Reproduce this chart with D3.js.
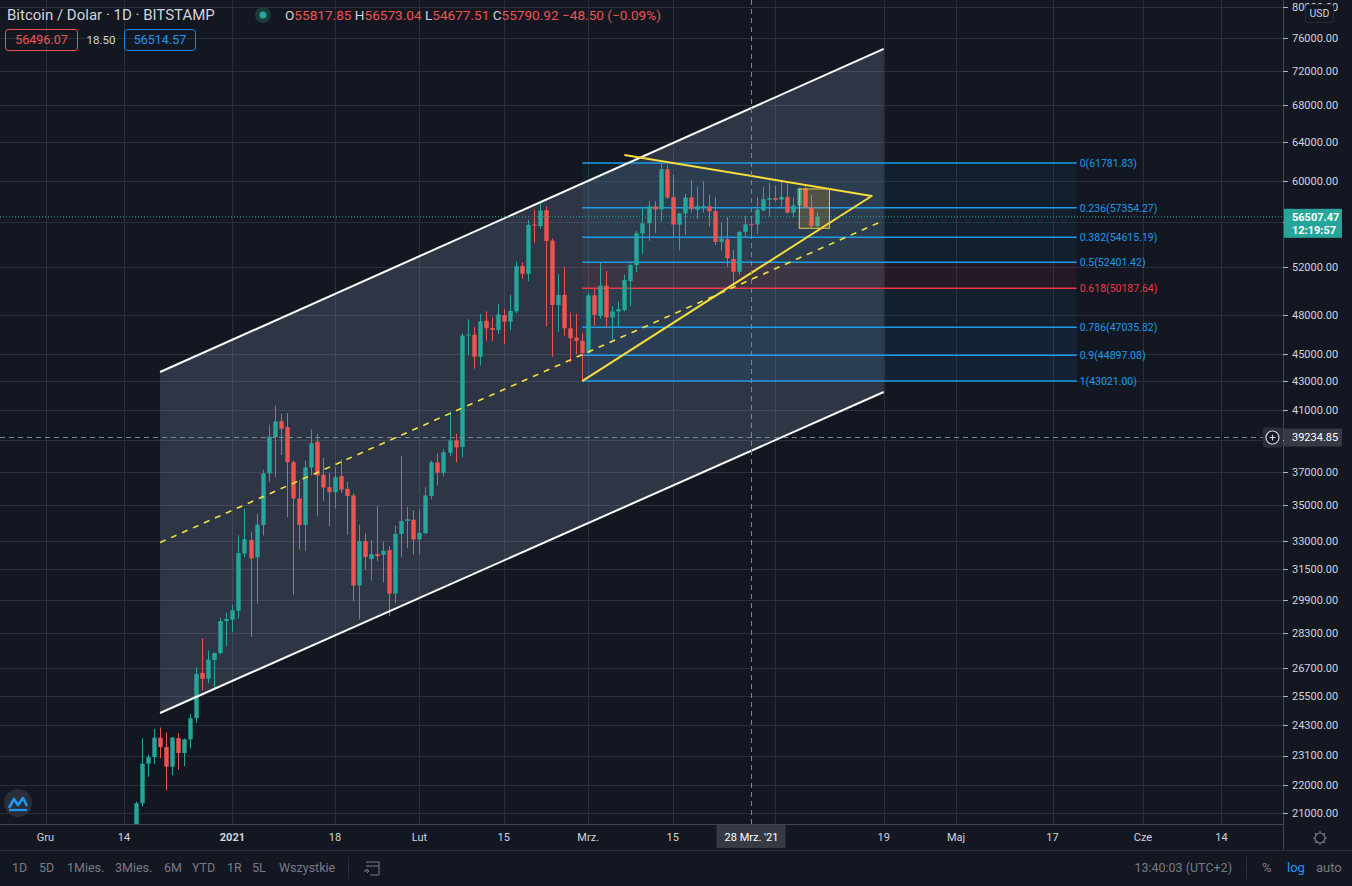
<!DOCTYPE html>
<html>
<head>
<meta charset="utf-8">
<script src="https://cdn.jsdelivr.net/npm/d3@7"></script>
<style>
  html, body { margin: 0; padding: 0; background: #131722; overflow: hidden; }
  svg { display: block; font-family: Roboto, "Noto Sans", sans-serif; }
</style>
</head>
<body>
<svg id="chart" width="1352" height="886"></svg>
<script>
// daily candles, BTC/USD Bitstamp, 16 Dec 2020 .. 8 Apr 2021
const firstDay = "2020-12-16";
const lastDay = "2021-04-08";

const opens = [
  19420, 21340, 22790, 23040, 23800, 23430, 22680, 23780, 23200, 23730, 24580, 26500, 26250, 27070, 27390, 28880,
  28950, 29380, 32310, 33040, 32100, 33880, 36900, 39200, 40240, 39850, 37600, 35400, 33880, 37270, 38890, 36820,
  36070, 35770, 36730, 35970, 35580, 30640, 32980, 32010, 32280, 32240, 32490, 30230, 33380, 34100, 34180,
  33070, 33410, 35550, 37580, 36940, 38200, 38980, 38560, 46400, 46460, 44790, 47550, 46980, 46830, 48000, 47480,
  48300, 52070, 51410, 55790, 55640, 57120, 54320, 48810, 49640, 46960, 46240, 45990,
  45060, 49600, 47920, 50400, 47820, 48290, 48400, 50800, 52150, 54980, 55900, 57500, 57200, 61150, 58380, 55780,
  56820, 58350, 57170, 57350, 57520, 57040, 54200, 54440, 52690, 51570, 55110, 55817.85, 55790, 57110, 58130,
  58290, 58130, 58400, 56900, 57570, 59240, 57410, 55650
];
const highs = [
  21400, 23780, 23130, 24140, 24200, 24000, 23820, 23980, 23760, 24760, 26740, 28060, 27500, 27400, 29040, 29300,
  29650, 33300, 34800, 33500, 34510, 37130, 40020, 41280, 40750, 40790, 37700, 36500, 37700, 39690, 39400, 37870,
  36930, 37270, 37770, 36400, 35700, 33890, 33420, 33040, 34940, 32950, 32700, 33840, 38000, 34900, 34700,
  34750, 36070, 37700, 38150, 38400, 40900, 39400, 46580, 47670, 47070, 48080, 48300, 47800, 48880, 48500, 49640,
  52430, 52380, 56220, 57190, 57880, 57500, 54500, 51400, 52000, 48200, 48100, 46600,
  49800, 50150, 52400, 51640, 48700, 49100, 51300, 52300, 55200, 57400, 58000, 58000, 61781.83, 61600, 60600, 56900,
  58700, 60050, 59400, 59950, 58600, 58400, 55990, 56480, 53480, 55200, 56600, 56573.04, 58400, 59400, 59780,
  59500, 60050, 59720, 58400, 59300, 59500, 58600, 56930
];
const lows = [
  19300, 21230, 22300, 22780, 23000, 21800, 22360, 22560, 22700, 23380, 24390, 25740, 26050, 25850, 27320, 27700,
  28340, 29000, 32110, 28130, 29740, 33290, 36400, 36660, 38050, 34320, 30150, 32520, 32430, 36780, 34360, 35260,
  33800, 34810, 35740, 33330, 29850, 28960, 31460, 30880, 31900, 30800, 29130, 29750, 32110, 32600, 32250,
  32280, 33400, 35350, 36180, 36710, 38000, 37600, 37900, 44880, 43910, 44150, 46020, 45960, 46500, 45750, 46820,
  48140, 50990, 50770, 54110, 55400, 47100, 44790, 46700, 46370, 44390, 44980, 43021,
  45000, 47150, 47700, 47060, 46070, 47010, 48300, 48700, 51560, 53100, 54300, 55000, 56100, 58200, 54650, 53440,
  54850, 56900, 56290, 56900, 55600, 53900, 53440, 52000, 50180, 51300, 54600, 54677.51, 54900, 57000, 56550,
  57900, 57310, 56800, 56500, 56800, 57400, 55440, 55500
];
const closes = [
  21340, 22790, 23040, 23800, 23430, 22680, 23800, 23200, 23730, 24580, 26460, 26240, 27090, 27390, 28880, 28980,
  29400, 32330, 33090, 32040, 33900, 36900, 39230, 40240, 39750, 37600, 35400, 33880, 37270, 38800, 36780, 36050,
  35770, 36670, 35930, 35550, 30640, 32980, 32120, 32280, 32170, 32460, 30230, 33380, 34100, 34200, 33070,
  33440, 35580, 37580, 36940, 38220, 38980, 38540, 46400, 46480, 44790, 47500, 46960, 46830, 48060, 47480, 48330,
  52070, 51410, 55760, 55690, 57100, 54280, 48810, 49640, 46960, 46190, 45990, 45060,
  49600, 48020, 50400, 47820, 48290, 48480, 50870, 52150, 54980, 55900, 57500, 57200, 61150, 58350, 55780, 56820,
  58350, 57230, 57520, 57520, 57040, 54200, 54490, 52740, 51570, 55110, 55817.85, 55790.92, 57190, 58190, 58290,
  58120, 58400, 56900, 57570, 59240, 57410, 55650, 56507.47
];

// axis ticks (labels that sit under a badge stay as grid lines only)
const priceTicks = [80000, 76000, 72000, 68000, 64000, 60000, 56000, 52000, 48000, 45000, 43000, 41000, 39000,
  37000, 35000, 33000, 31500, 29900, 28300, 26700, 25500, 24300, 23100, 22000, 21000];
const hiddenPriceLabels = [56000, 39000];
const timeTickDates = ["2020-12-01", "2020-12-14", "2021-01-01", "2021-01-18", "2021-02-01", "2021-02-15",
  "2021-03-01", "2021-03-15", "2021-04-01", "2021-04-19", "2021-05-01", "2021-05-17", "2021-06-01", "2021-06-14"];
const timeTickLabels = ["Gru", "14", "2021", "18", "Lut", "15", "Mrz.", "15", "", "19", "Maj", "17", "Cze", "14"];

// fibonacci retracement
const fibLevels = ["0", "0.236", "0.382", "0.5", "0.618", "0.786", "0.9", "1"];
const fibPrices = [61781.83, 57354.27, 54615.19, 52401.42, 50187.64, 47035.82, 44897.08, 43021.00];
const fibDates = ["2021-02-28", "2021-05-21"];

// drawings (anchor date, price)
const channelUpper = [["2020-12-20", 43674], ["2021-04-19", 74668]];
const channelLower = [["2020-12-20", 24792], ["2021-04-19", 42246]];
const triangle = [["2021-03-07", 62620], ["2021-04-17", 58496], ["2021-02-28", 43021]];
const box = [["2021-04-05", 59180], ["2021-04-10", 55440]];

// header / status
const lastPrice = 56507.47;
const countdown = "12:19:57";
const crossDate = "2021-03-28";
const crossPrice = 39234.85;
const hovered = { o: "55817.85", h: "56573.04", l: "54677.51", c: "55790.92", chg: "\u221248.50 (\u22120.09%)" };
const bid = "56496.07", spread = "18.50", ask = "56514.57";

const W = 1352, H = 886;
const paneRight = 1283, paneBottom = 824;
const up = "#26a69a", down = "#ef5350";
const fmt = d3.format(".2f");
const parse = d3.utcParse("%Y-%m-%d");

const x = d3.scaleUtc()
  .domain([parse("2020-12-01"), parse("2021-06-14")])
  .range([45.5, 1221.4]);
const y = d3.scaleLog()
  .domain([21000, 76000])
  .range([813, 38.3]);

const days = d3.utcDay.range(parse(firstDay), d3.utcDay.offset(parse(lastDay), 1));
const candles = days.map((d, i) => ({ d: d, o: opens[i], h: highs[i], l: lows[i], c: closes[i] }));

const svg = d3.select("#chart");
svg.append("rect").attr("width", W).attr("height", H).attr("fill", "#131722");

svg.append("clipPath").attr("id", "pane")
  .append("rect").attr("width", paneRight).attr("height", paneBottom);

const pane = svg.append("g").attr("clip-path", "url(#pane)");

// grid
pane.selectAll(".hgrid").data(priceTicks).enter().append("line")
  .attr("x1", 0).attr("x2", paneRight)
  .attr("y1", d => Math.round(y(d)) + 0.5).attr("y2", d => Math.round(y(d)) + 0.5)
  .attr("stroke", "#2a2e39");
pane.selectAll(".vgrid").data(timeTickDates).enter().append("line")
  .attr("y1", 0).attr("y2", paneBottom)
  .attr("x1", d => Math.round(x(parse(d))) + 0.5).attr("x2", d => Math.round(x(parse(d))) + 0.5)
  .attr("stroke", "#2a2e39");

const pt = p => [x(parse(p[0])), y(p[1])];

// parallel channel fill
const chanPoly = [pt(channelUpper[0]), pt(channelUpper[1]), pt(channelLower[1]), pt(channelLower[0])];
pane.append("path")
  .attr("d", "M" + chanPoly.join("L") + "Z")
  .attr("fill", "rgba(150,170,205,0.21)");

// fib fills
const fibFill = ["rgba(8,153,200,0.07)", "rgba(8,153,200,0.07)", "rgba(8,153,200,0.07)", "rgba(242,54,69,0.08)",
  "rgba(8,153,200,0.07)", "rgba(33,150,243,0.095)", "rgba(33,150,243,0.095)"];
const fx1 = x(parse(fibDates[0])), fx2 = x(parse(fibDates[1]));
for (let i = 0; i < fibPrices.length - 1; i++) {
  pane.append("rect")
    .attr("x", fx1).attr("width", fx2 - fx1)
    .attr("y", y(fibPrices[i])).attr("height", y(fibPrices[i + 1]) - y(fibPrices[i]))
    .attr("fill", fibFill[i]);
}
pane.selectAll(".fib").data(fibPrices).enter().append("line")
  .attr("x1", fx1).attr("x2", fx2)
  .attr("y1", d => y(d)).attr("y2", d => y(d))
  .attr("stroke", (d, i) => fibLevels[i] === "0.618" ? "#f23645" : "#1e9be9")
  .attr("stroke-width", 1.5);

// candles
const bw = 4.4;
const cg = pane.selectAll(".candle").data(candles).enter().append("g");
cg.append("line")
  .attr("x1", d => Math.round(x(d.d)) + 0.5).attr("x2", d => Math.round(x(d.d)) + 0.5)
  .attr("y1", d => y(d.h)).attr("y2", d => y(d.l))
  .attr("stroke", d => d.c >= d.o ? up : down);
cg.append("rect")
  .attr("x", d => Math.round(x(d.d)) + 0.5 - bw / 2)
  .attr("width", bw)
  .attr("y", d => y(Math.max(d.o, d.c)))
  .attr("height", d => Math.max(1, Math.abs(y(d.o) - y(d.c))))
  .attr("fill", d => d.c >= d.o ? up : down);

// channel lines and dashed median
const line = d3.line();
pane.append("path").attr("d", line([pt(channelUpper[0]), pt(channelUpper[1])]))
  .attr("stroke", "#ffffff").attr("stroke-width", 2).attr("fill", "none");
pane.append("path").attr("d", line([pt(channelLower[0]), pt(channelLower[1])]))
  .attr("stroke", "#ffffff").attr("stroke-width", 2).attr("fill", "none");
const mid = [0, 1].map(k => [x(parse(channelUpper[k][0])),
  y(Math.sqrt(channelUpper[k][1] * channelLower[k][1]))]);
pane.append("path").attr("d", line(mid))
  .attr("stroke", "#f5e33b").attr("stroke-width", 1.6).attr("stroke-dasharray", "6,6").attr("fill", "none");

// triangle
pane.append("path").attr("d", line(triangle.map(pt)))
  .attr("stroke", "#f7dd3c").attr("stroke-width", 2).attr("fill", "none")
  .attr("stroke-linejoin", "round");

// rectangle
const b0 = pt(box[0]), b1 = pt(box[1]);
pane.append("rect")
  .attr("x", b0[0]).attr("y", b0[1]).attr("width", b1[0] - b0[0]).attr("height", b1[1] - b0[1])
  .attr("fill", "rgba(255,170,40,0.18)").attr("stroke", "#e8c547").attr("stroke-width", 1);

// current price line
pane.append("line")
  .attr("x1", 0).attr("x2", paneRight).attr("y1", y(lastPrice)).attr("y2", y(lastPrice))
  .attr("stroke", up).attr("stroke-dasharray", "1,2");

// crosshair
const cx = Math.round(x(parse(crossDate))) + 0.5, cy = Math.round(y(crossPrice)) + 0.5;
pane.append("line").attr("x1", cx).attr("x2", cx).attr("y1", 0).attr("y2", paneBottom)
  .attr("stroke", "#758696").attr("stroke-dasharray", "5,4");
pane.append("line").attr("x1", 0).attr("x2", paneRight).attr("y1", cy).attr("y2", cy)
  .attr("stroke", "#758696").attr("stroke-dasharray", "5,4");

// fib labels
pane.selectAll(".fibl").data(fibPrices).enter().append("text")
  .attr("x", fx2 + 3).attr("y", d => y(d)).attr("dy", "0.35em")
  .style("font-size", "10.5px")
  .attr("fill", (d, i) => fibLevels[i] === "0.618" ? "#f23645" : "#1e9be9")
  .text((d, i) => fibLevels[i] + "(" + fmt(d) + ")");

// right price axis
svg.append("line").attr("x1", paneRight + 0.5).attr("x2", paneRight + 0.5).attr("y1", 0).attr("y2", H - 36)
  .attr("stroke", "#434651");
const yAx = svg.append("g");
yAx.selectAll("line").data(priceTicks).enter().append("line")
  .attr("x1", paneRight).attr("x2", paneRight + 5)
  .attr("y1", d => Math.round(y(d)) + 0.5).attr("y2", d => Math.round(y(d)) + 0.5)
  .attr("stroke", "#b2b5be");
yAx.selectAll("text").data(priceTicks.filter(d => hiddenPriceLabels.indexOf(d) < 0)).enter().append("text")
  .attr("x", 1292).attr("y", d => y(d)).attr("dy", "0.35em")
  .style("font-size", "11px").attr("fill", "#d1d4dc")
  .text(d => fmt(d));

// USD box
svg.append("rect").attr("x", 1305.5).attr("y", 4.5).attr("width", 28).attr("height", 18).attr("rx", 3)
  .attr("fill", "#131722").attr("stroke", "#2a2e39");
svg.append("text").attr("x", 1319.5).attr("y", 17).attr("text-anchor", "middle")
  .style("font-size", "10.5px").attr("fill", "#d1d4dc").text("USD");

// last price badge
const ly = y(lastPrice);
svg.append("rect").attr("x", paneRight + 1).attr("y", ly - 8).attr("width", 58).attr("height", 29)
  .attr("fill", up);
svg.append("text").attr("x", 1292).attr("y", ly + 4).style("font-size", "11px").style("font-weight", "bold")
  .attr("fill", "#ffffff").text(fmt(lastPrice));
svg.append("text").attr("x", 1292).attr("y", ly + 17).style("font-size", "11px").style("font-weight", "bold")
  .attr("fill", "#ffffff").text(countdown);

// crosshair price badge
svg.append("rect").attr("x", paneRight + 1).attr("y", cy - 9).attr("width", 58).attr("height", 18)
  .attr("fill", "#363a45");
svg.append("text").attr("x", 1292).attr("y", cy).attr("dy", "0.35em").style("font-size", "11px")
  .attr("fill", "#ffffff").text(fmt(crossPrice));
svg.append("rect").attr("x", 1263).attr("y", cy - 10).attr("width", 20).attr("height", 20).attr("rx", 3)
  .attr("fill", "#2a2e39");
svg.append("circle").attr("cx", 1272.5).attr("cy", cy).attr("r", 6.5)
  .attr("fill", "#131722").attr("stroke", "#d1d4dc").attr("stroke-width", 1.2);
svg.append("path").attr("d", `M1269.5,${cy}H1275.5M1272.5,${cy - 3}V${cy + 3}`)
  .attr("stroke", "#d1d4dc").attr("stroke-width", 1.2);

// bottom time axis
svg.append("line").attr("x1", 0).attr("x2", paneRight).attr("y1", paneBottom + 0.5).attr("y2", paneBottom + 0.5)
  .attr("stroke", "#434651");
svg.append("line").attr("x1", 0).attr("x2", W).attr("y1", 850.5).attr("y2", 850.5)
  .attr("stroke", "#2a2e39");
svg.selectAll(".tl").data(timeTickDates.filter((d, i) => timeTickLabels[i] !== "")).enter().append("text")
  .attr("x", d => x(parse(d))).attr("y", 841).attr("text-anchor", "middle")
  .style("font-size", "11px")
  .style("font-weight", d => timeTickLabels[timeTickDates.indexOf(d)] === "2021" ? "bold" : "normal")
  .attr("fill", "#d1d4dc")
  .text(d => timeTickLabels[timeTickDates.indexOf(d)]);

// crosshair time badge
svg.append("rect").attr("x", cx - 35).attr("y", paneBottom + 1).attr("width", 69).attr("height", 23)
  .attr("fill", "#363a45");
svg.append("text").attr("x", cx).attr("y", 841).attr("text-anchor", "middle")
  .style("font-size", "11px").attr("fill", "#ffffff").text("28 Mrz. '21");

// settings gear
const gear = svg.append("g").attr("transform", "translate(1320,838)")
  .attr("stroke", "#787b86").attr("fill", "none").attr("stroke-width", 1.2);
gear.append("circle").attr("r", 5);
d3.range(8).forEach(k => {
  const a = k * Math.PI / 4;
  gear.append("line").attr("x1", 5 * Math.cos(a)).attr("y1", 5 * Math.sin(a))
    .attr("x2", 7 * Math.cos(a)).attr("y2", 7 * Math.sin(a));
});

// logo badge
svg.append("circle").attr("cx", 18).attr("cy", 803).attr("r", 14).attr("fill", "#2a2e39");
svg.append("path").attr("d", "M9,808 L14,799 L18,805 L23,798 L27,806")
  .attr("stroke", "#2196f3").attr("stroke-width", 2.6).attr("fill", "none").attr("stroke-linejoin", "round");
svg.append("path").attr("d", "M9,810 H27").attr("stroke", "#2196f3").attr("stroke-width", 2.2);

// header
svg.append("text").attr("x", 7).attr("y", 20).style("font-size", "15px").attr("fill", "#d1d4dc")
  .text("Bitcoin / Dolar \u00b7 1D \u00b7 BITSTAMP");
svg.append("circle").attr("cx", 263).attr("cy", 15).attr("r", 8).attr("fill", "#1b3a3a");
svg.append("circle").attr("cx", 263).attr("cy", 15).attr("r", 3.5).attr("fill", "#26a69a");

const ohlc = svg.append("text").attr("x", 285).attr("y", 20).style("font-size", "13.6px");
[["O", hovered.o], ["H", hovered.h], ["L", hovered.l], ["C", hovered.c]].forEach(p => {
  ohlc.append("tspan").attr("fill", "#d1d4dc").text(p[0]);
  ohlc.append("tspan").attr("fill", down).text(p[1] + " ");
});
ohlc.append("tspan").attr("fill", down).text(hovered.chg);

svg.append("rect").attr("x", 5.5).attr("y", 29.5).attr("width", 72).attr("height", 21).attr("rx", 3)
  .attr("fill", "none").attr("stroke", down);
svg.append("text").attr("x", 41.5).attr("y", 44).attr("text-anchor", "middle").style("font-size", "12.5px")
  .attr("fill", down).text(bid);
svg.append("text").attr("x", 101).attr("y", 44).attr("text-anchor", "middle").style("font-size", "11.5px")
  .attr("fill", "#d1d4dc").text(spread);
svg.append("rect").attr("x", 124.5).attr("y", 29.5).attr("width", 71).attr("height", 21).attr("rx", 3)
  .attr("fill", "none").attr("stroke", "#1e88e5");
svg.append("text").attr("x", 160).attr("y", 44).attr("text-anchor", "middle").style("font-size", "12.5px")
  .attr("fill", "#2196f3").text(ask);

// bottom toolbar
const ranges = ["1D", "5D", "1Mies.", "3Mies.", "6M", "YTD", "1R", "5L", "Wszystkie"];
const rangeX = [12, 39, 67, 115, 164, 192, 227, 252, 279];
svg.selectAll(".rg").data(ranges).enter().append("text")
  .attr("x", (d, i) => rangeX[i]).attr("y", 872).style("font-size", "12.5px")
  .attr("fill", "#787b86").text(d => d);
svg.append("line").attr("x1", 348.5).attr("x2", 348.5).attr("y1", 857).attr("y2", 879).attr("stroke", "#2a2e39");
svg.append("path").attr("d", "M366,862 H379 V875 H370 M366,866 H379 M366,869 V871 M364,871 H369 M367,869 L369,871 L367,873")
  .attr("stroke", "#787b86").attr("fill", "none");
svg.append("text").attr("x", 1232).attr("y", 872).attr("text-anchor", "end").style("font-size", "12.5px")
  .attr("fill", "#787b86").text("13:40:03 (UTC+2)");
svg.append("line").attr("x1", 1246.5).attr("x2", 1246.5).attr("y1", 857).attr("y2", 879).attr("stroke", "#2a2e39");
svg.append("text").attr("x", 1262).attr("y", 872).style("font-size", "13px").attr("fill", "#787b86").text("%");
svg.append("text").attr("x", 1287).attr("y", 872).style("font-size", "13px").attr("fill", "#2196f3").text("log");
svg.append("text").attr("x", 1316).attr("y", 872).style("font-size", "13px").attr("fill", "#787b86").text("auto");
</script>
</body>
</html>
